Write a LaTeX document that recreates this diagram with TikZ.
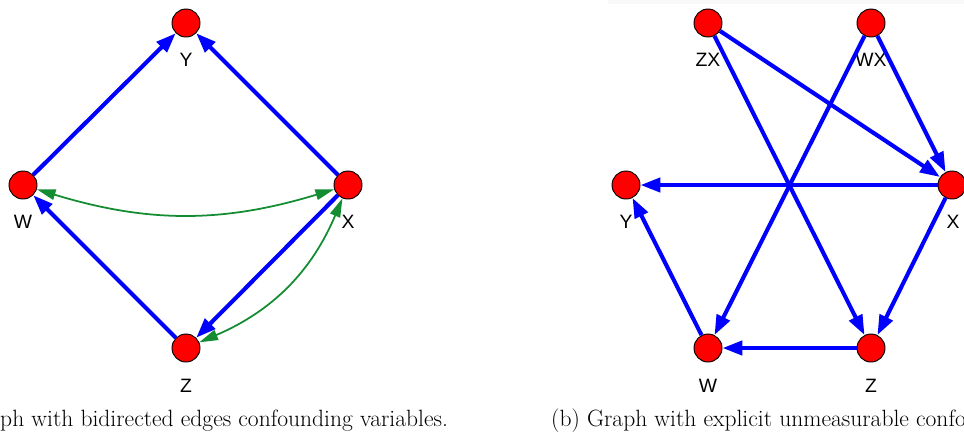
\documentclass[tikz,border=0pt]{standalone}
\usepackage{fontspec}
\newfontfamily\labelfont{Liberation Sans}
\usepackage{tikz}
\usetikzlibrary{arrows.meta}
\definecolor{edgeblue}{RGB}{0,0,255}
\definecolor{edgegreen}{RGB}{20,140,50}
\tikzset{
  varnode/.style  = {circle,draw=black,line width=0.8pt,fill=red,inner sep=0pt,minimum size=0.84cm},
  varlabel/.style = {font=\labelfont\fontsize{16.5}{19}\selectfont,inner sep=0pt},
  causarr/.style  = {-{Triangle[length=17pt,width=12pt]},edgeblue,line width=3.5pt},
  confarr/.style  = {{Triangle[length=16pt,width=9pt]}-{Triangle[length=16pt,width=9pt]},edgegreen,line width=1.5pt},
  captext/.style  = {font=\fontsize{20.1}{24}\selectfont,inner sep=0pt,anchor=base west}
}

\begin{document}
\begin{tikzpicture}[x=0.03cm,y=-0.03cm]
  \useasboundingbox (0,0) rectangle (964,434);
  \fill[gray!5] (608,0) rectangle (964,4);

  % (a) bidirected edges
  \node[varnode] (aY) at (186,23) {};
  \node[varnode] (aW) at (23,185) {};
  \node[varnode] (aX) at (348,185) {};
  \node[varnode] (aZ) at (186,348) {};
  \node[varlabel] (aYl) at (186,60) {Y};
  \node[varlabel] (aWl) at (23,222) {W};
  \node[varlabel] (aXl) at (348,222) {X};
  \node[varlabel] (aZl) at (186,386) {Z};
  \draw[causarr] (aW) -- (aY);
  \draw[causarr] (aX) -- (aY);
  \draw[causarr] (aZ) -- (aW);
  \draw[causarr] (aX) -- (aZ);
  \draw[confarr] (aW) to[bend right=17] (aX);
  \draw[confarr] (aZ) to[bend right=22] (aX);

  % (b) explicit confounders
  \node[varnode] (bZX) at (708,23) {};
  \node[varnode] (bWX) at (871,23) {};
  \node[varnode] (bY) at (626,185) {};
  \node[varnode] (bX) at (952,185) {};
  \node[varnode] (bW) at (708,348) {};
  \node[varnode] (bZ) at (871,348) {};
  \node[varlabel] (bZXl) at (708,60) {ZX};
  \node[varlabel] (bWXl) at (871,60) {WX};
  \node[varlabel] (bYl) at (626,222) {Y};
  \node[varlabel] (bXl) at (953,222) {X};
  \node[varlabel] (bWl) at (708,386) {W};
  \node[varlabel] (bZl) at (871,386) {Z};
  \foreach \s/\t in {bZX/bX,bZX/bZ,bWX/bX,bWX/bW,bX/bY,bX/bZ,bZ/bW,bW/bY}
    \draw[causarr] (\s) -- (\t);

  \node[captext] (capa) at (0,426.5) {ph with bidirected edges confounding variables.};
  \node[captext] (capb) at (551,426.5) {(b) Graph with explicit unmeasurable confo};
\end{tikzpicture}
\end{document}
